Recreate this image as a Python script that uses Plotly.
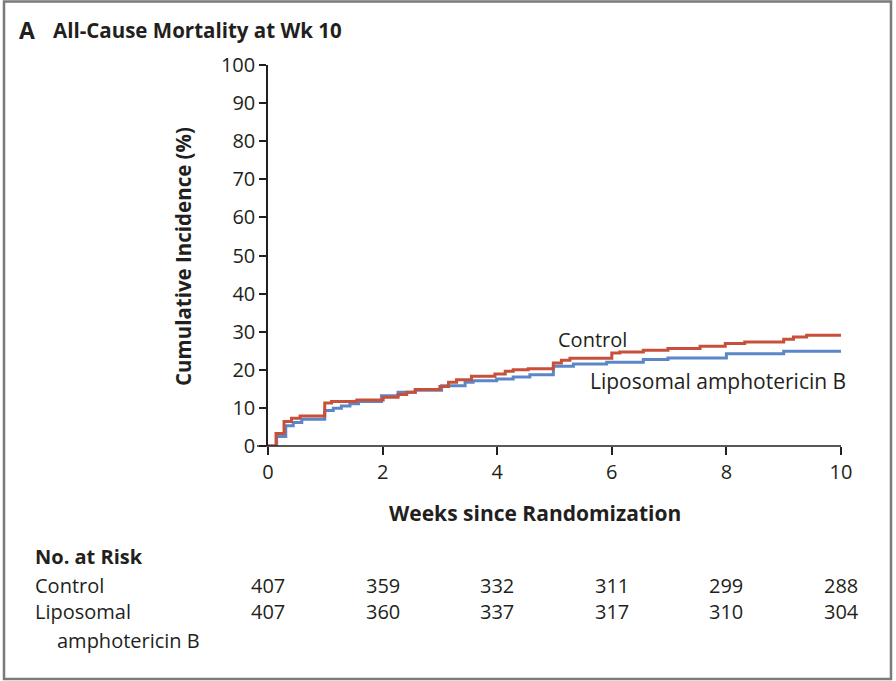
import plotly.graph_objects as go

# ---- data ----
control_t = [0, 0.14, 0.28, 0.41, 0.56, 0.99, 1.11, 1.55, 2.01, 2.27, 2.42, 2.57, 3.0, 3.15,
             3.29, 3.55, 3.96, 4.14, 4.28, 4.54, 4.98, 5.12, 5.27, 6.0, 6.14, 6.55, 6.98,
             7.54, 7.98, 8.32, 9.0, 9.17, 9.4, 10]
control_v = [0, 3.3, 6.4, 7.3, 7.9, 11.3, 11.7, 12.1, 12.8, 13.5, 14.1, 14.8, 15.6, 16.7,
             17.4, 18.3, 18.9, 19.6, 20.0, 20.3, 21.8, 22.5, 23.0, 24.4, 24.7, 25.1, 25.6,
             26.2, 26.9, 27.3, 28.0, 28.6, 29.1, 29.1]

lipo_t = [0, 0.15, 0.31, 0.44, 0.59, 0.99, 1.14, 1.28, 1.43, 1.58, 1.98, 2.27, 2.57, 3.03,
          3.44, 3.58, 3.99, 4.28, 4.57, 4.98, 5.33, 5.91, 6.55, 6.98, 8.0, 9.0, 10]
lipo_v = [0, 2.5, 5.3, 6.2, 7.0, 9.3, 9.9, 10.5, 11.1, 11.7, 13.2, 14.1, 14.6, 15.8,
          16.7, 17.1, 17.6, 18.1, 18.7, 20.9, 21.5, 22.0, 22.7, 23.1, 24.2, 24.9, 25.0]

x_ticks = [0, 2, 4, 6, 8, 10]
y_ticks = [0, 10, 20, 30, 40, 50, 60, 70, 80, 90, 100]
risk_times = [0, 2, 4, 6, 8, 10]
risk_control = [407, 359, 332, 311, 299, 288]
risk_lipo = [407, 360, 337, 317, 310, 304]

RED = "#c8503a"
BLUE = "#5b87c8"
INK = "#231f20"
FONT = "Open Sans"

W, H = 896, 681
L, R, T, B = 268, 841, 65, 446  # plot area pixels


def px(x):
    return (x - L) / (R - L)


def py(y):
    return (B - y) / (B - T)


fig = go.Figure()
fig.add_trace(go.Scatter(x=lipo_t, y=lipo_v, mode="lines", line=dict(color=BLUE, width=3, shape="hv"),
                         showlegend=False, hoverinfo="skip"))
fig.add_trace(go.Scatter(x=control_t, y=control_v, mode="lines", line=dict(color=RED, width=3, shape="hv"),
                         showlegend=False, hoverinfo="skip"))

fig.update_layout(
    width=W, height=H,
    margin=dict(l=L, r=W - R, t=T, b=H - B, pad=0),
    paper_bgcolor="white", plot_bgcolor="white",
    font=dict(family=FONT, size=20, color=INK),
    xaxis=dict(range=[0, 10], tickvals=x_ticks, ticks="outside", ticklen=8, tickwidth=1.5,
               tickcolor=INK, showline=False, showgrid=False, zeroline=False,
               tickfont=dict(size=20, color=INK)),
    yaxis=dict(range=[0, 100], tickvals=y_ticks, ticks="outside", ticklen=7, tickwidth=1.5,
               tickcolor=INK, showline=True, linecolor=INK, linewidth=1.5, showgrid=False,
               zeroline=False, tickfont=dict(size=20, color=INK)),
)

shapes = [
    # x-axis line extending slightly left of the y axis
    dict(type="line", xref="paper", yref="paper", x0=px(257), x1=1, y0=0, y1=0,
         line=dict(color=INK, width=1.5)),
    # outer frame
    dict(type="rect", xref="paper", yref="paper", x0=px(4), x1=px(891), y0=py(679), y1=py(1.5),
         line=dict(color="#7a7a7a", width=2.5)),
]
fig.update_layout(shapes=shapes)

ann = []
ann.append(dict(text="<b>A</b>", x=px(17), y=py(30), xref="paper", yref="paper", xanchor="left",
                yanchor="middle", showarrow=False, font=dict(size=23, color=INK)))
ann.append(dict(text="<b>All-Cause Mortality at Wk 10</b>", x=px(51), y=py(30), xref="paper",
                yref="paper", xanchor="left", yanchor="middle", showarrow=False,
                font=dict(size=20.5, color=INK)))
ann.append(dict(text="<b>Cumulative Incidence (%)</b>", x=px(183), y=py(257), xref="paper",
                yref="paper", xanchor="center", yanchor="middle", textangle=-90, showarrow=False,
                font=dict(size=20.5, color=INK)))
ann.append(dict(text="<b>Weeks since Randomization</b>", x=px(535), y=py(513), xref="paper",
                yref="paper", xanchor="center", yanchor="middle", showarrow=False,
                font=dict(size=21, color=INK)))
ann.append(dict(text="Control", x=px(556), y=py(339), xref="paper", yref="paper", xanchor="left",
                yanchor="middle", showarrow=False, font=dict(size=20, color=INK)))
ann.append(dict(text="Liposomal amphotericin B", x=px(588), y=py(381), xref="paper", yref="paper",
                xanchor="left", yanchor="middle", showarrow=False, font=dict(size=21, color=INK)))
ann.append(dict(text="<b>No. at Risk</b>", x=px(33), y=py(556), xref="paper", yref="paper",
                xanchor="left", yanchor="middle", showarrow=False, font=dict(size=20, color=INK)))
ann.append(dict(text="Control", x=px(33), y=py(585), xref="paper", yref="paper", xanchor="left",
                yanchor="middle", showarrow=False, font=dict(size=20, color=INK)))
ann.append(dict(text="Liposomal", x=px(33), y=py(611), xref="paper", yref="paper", xanchor="left",
                yanchor="middle", showarrow=False, font=dict(size=20, color=INK)))
ann.append(dict(text="amphotericin B", x=px(55), y=py(640), xref="paper", yref="paper",
                xanchor="left", yanchor="middle", showarrow=False, font=dict(size=20, color=INK)))
for t, c, l in zip(risk_times, risk_control, risk_lipo):
    ann.append(dict(text=str(c), x=t, y=py(585), xref="x", yref="paper", xanchor="center",
                    yanchor="middle", showarrow=False, font=dict(size=20, color=INK)))
    ann.append(dict(text=str(l), x=t, y=py(611), xref="x", yref="paper", xanchor="center",
                    yanchor="middle", showarrow=False, font=dict(size=20, color=INK)))
fig.update_layout(annotations=ann)

fig.write_html("out.html", config={"displayModeBar": False},
               post_script="document.body.style.margin='0';")
